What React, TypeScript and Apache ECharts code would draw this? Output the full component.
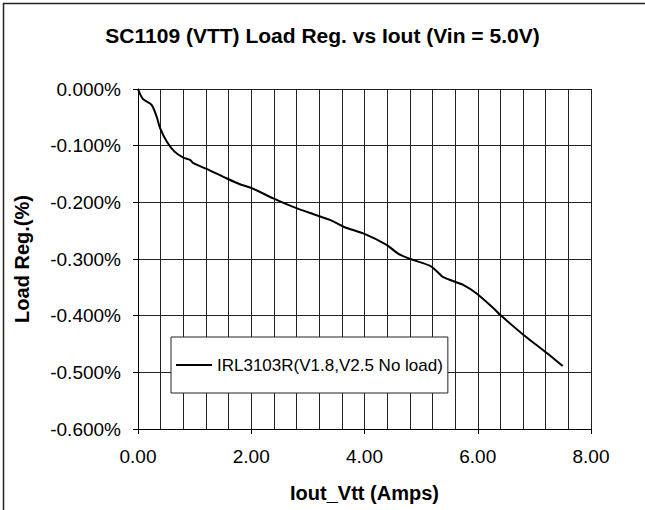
import React, { useEffect, useRef } from "react";
import * as echarts from "echarts";

const titleText = "SC1109 (VTT) Load Reg. vs Iout (Vin = 5.0V)";
const xName = "Iout_Vtt (Amps)";
const yName = "Load Reg.(%)";
const seriesName = "IRL3103R(V1.8,V2.5 No load)";

const iout = [0, 0.09, 0.24, 0.33, 0.39, 0.51, 0.65, 0.8, 0.92, 0.98, 1.21, 1.57, 1.8, 2.01, 2.39, 2.74, 3.1, 3.39, 3.63, 4.01, 4.39, 4.6, 4.81, 5.16, 5.28, 5.39, 5.75, 5.98, 6.31, 6.4, 6.81, 7.22, 7.5];
const loadReg = [0, -0.018, -0.028, -0.049, -0.069, -0.093, -0.111, -0.121, -0.125, -0.131, -0.141, -0.158, -0.168, -0.175, -0.193, -0.208, -0.221, -0.231, -0.243, -0.256, -0.275, -0.291, -0.3, -0.312, -0.322, -0.332, -0.346, -0.361, -0.39, -0.399, -0.434, -0.466, -0.489];

const FONT = "'Liberation Sans', Arial, sans-serif";

export default function App() {
  const ref = useRef<HTMLDivElement>(null);
  useEffect(() => {
    if (!ref.current) return;
    const chart = echarts.init(ref.current, null, { renderer: "svg" });
    const data = iout.map((x, i) => [x, loadReg[i]]);
    chart.setOption({
      animation: false,
      backgroundColor: "#ffffff",
      textStyle: { fontFamily: FONT },
      title: {
        text: titleText,
        left: "center",
        top: 25,
        padding: 0,
        textStyle: { fontFamily: FONT, fontSize: 21, fontWeight: "bold", color: "#000" },
      },
      graphic: [
        {
          type: "rect",
          shape: { x: 3.5, y: 3.5, width: 800, height: 700 },
          style: { fill: "none", stroke: "#222", lineWidth: 1.5 },
          silent: true,
          z: 100,
        },
      ],
      legend: {
        left: 171,
        top: 337,
        orient: "vertical",
        padding: [19, 5, 19, 5],
        icon: "rect",
        itemWidth: 36,
        itemHeight: 2,
        backgroundColor: "#fff",
        borderColor: "#222",
        borderWidth: 1,
        borderRadius: 0,
        itemStyle: { color: "#000" },
        textStyle: { fontFamily: FONT, fontSize: 17, color: "#000", lineHeight: 18 },
        data: [{ name: seriesName }],
        z: 10,
      },
      grid: { left: 138, top: 89, right: 54, bottom: 81, containLabel: false },
      xAxis: {
        type: "value",
        min: 0,
        max: 8,
        interval: 2,
        name: xName,
        nameLocation: "middle",
        nameGap: 54,
        nameTextStyle: { fontFamily: FONT, fontSize: 20, fontWeight: "bold", color: "#000" },
        axisLine: { show: true, onZero: false, lineStyle: { color: "#000", width: 1 } },
        axisTick: { show: true, length: 5, lineStyle: { color: "#000" } },
        axisLabel: {
          margin: 18,
          fontFamily: FONT,
          fontSize: 19,
          color: "#000",
          formatter: (v: number) => v.toFixed(2),
        },
        splitLine: { show: true, lineStyle: { color: "#222", width: 1 } },
        minorTick: { show: false, splitNumber: 5 },
        minorSplitLine: { show: true, lineStyle: { color: "#222", width: 1 } },
      },
      yAxis: {
        type: "value",
        min: -0.6,
        max: 0,
        interval: 0.1,
        name: yName,
        nameLocation: "middle",
        nameGap: 106,
        nameTextStyle: { fontFamily: FONT, fontSize: 20, fontWeight: "bold", color: "#000" },
        axisLine: { show: true, onZero: false, lineStyle: { color: "#000", width: 1 } },
        axisTick: { show: true, length: 5, lineStyle: { color: "#000" } },
        axisLabel: {
          margin: 17,
          fontFamily: FONT,
          fontSize: 19,
          color: "#000",
          formatter: (v: number) => (Math.abs(v) < 1e-9 ? 0 : v).toFixed(3) + "%",
        },
        splitLine: { show: true, lineStyle: { color: "#222", width: 1 } },
      },
      series: [
        {
          name: seriesName,
          type: "line",
          data,
          symbol: "none",
          smooth: 0.3,
          lineStyle: { color: "#000", width: 2 },
          itemStyle: { color: "#000" },
          z: 5,
        },
      ],
    });
    return () => chart.dispose();
  }, []);
  return (
    <div
      ref={ref}
      style={{ position: "absolute", left: 0, top: 0, width: 645, height: 510 }}
    />
  );
}
